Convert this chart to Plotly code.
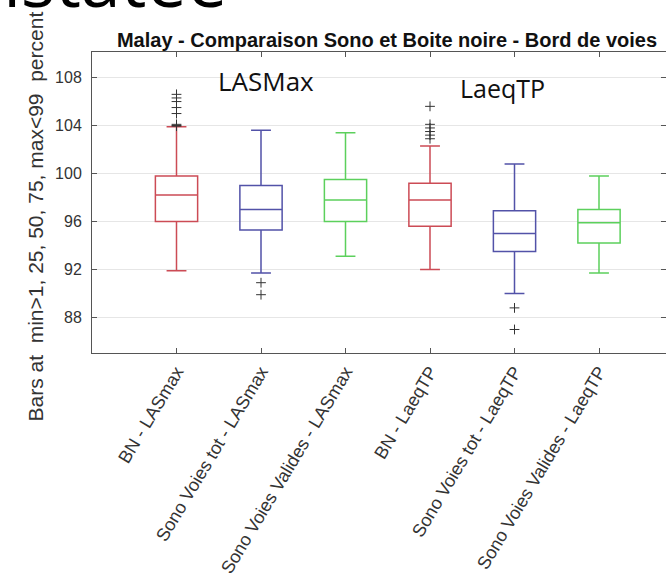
import plotly.graph_objects as go

# ---- data ----
categories = ["BN - LASmax", "Sono Voies tot - LASmax", "Sono Voies Valides - LASmax",
              "BN - LaeqTP", "Sono Voies tot - LaeqTP", "Sono Voies Valides - LaeqTP"]
positions = [1, 2, 3, 4, 5, 6]
lower_whisker = [91.9, 91.7, 93.1, 92.0, 90.0, 91.7]
q1_values     = [96.0, 95.3, 96.0, 95.6, 93.5, 94.2]
median_values = [98.2, 97.0, 97.8, 97.8, 95.0, 95.9]
q3_values     = [99.8, 99.0, 99.5, 99.2, 96.9, 97.0]
upper_whisker = [103.9, 103.6, 103.4, 102.3, 100.8, 99.8]
outliers = [
    [106.6, 106.3, 106.0, 105.5, 105.0, 104.1, 104.0, 103.95],
    [90.9, 89.9],
    [],
    [105.6, 104.1, 103.8, 103.5, 103.2, 102.9],
    [88.8, 87.0],
    [],
]
colors = ["#cc4b55", "#5252a8", "#5cd05c", "#cc4b55", "#5252a8", "#5cd05c"]
y_ticks = [88, 92, 96, 100, 104, 108]

W, H = 666, 577
ML, MT, MB = 92, 52, 224
plot_w = W - ML
plot_h = H - MT - MB

fig = go.Figure()
for i, cat in enumerate(categories):
    fig.add_trace(go.Box(
        x=[positions[i]], q1=[q1_values[i]], median=[median_values[i]], q3=[q3_values[i]],
        lowerfence=[lower_whisker[i]], upperfence=[upper_whisker[i]],
        width=0.5, whiskerwidth=0.47, boxpoints=False,
        fillcolor="rgba(0,0,0,0)", line=dict(color=colors[i], width=1.5),
        name=cat, showlegend=False, hoverinfo="skip"))
    if outliers[i]:
        fig.add_trace(go.Scatter(
            x=[positions[i]] * len(outliers[i]), y=outliers[i], mode="markers",
            marker=dict(symbol="cross-thin", size=7, line=dict(color="#333333", width=1)),
            showlegend=False, hoverinfo="skip"))

x_max = plot_w / 84.5

fig.update_layout(
    width=W, height=H,
    margin=dict(l=ML, r=0, t=MT, b=MB, pad=0),
    paper_bgcolor="white", plot_bgcolor="white",
    font=dict(family="Liberation Sans, Arial, sans-serif", color="#333333"),
    title=dict(text="<b>Malay - Comparaison Sono et Boite noire - Bord de voies</b>",
               x=387 / W, xref="container", xanchor="center",
               y=1 - 40 / H, yref="container", yanchor="middle",
               font=dict(size=20, color="#111111", family="Liberation Sans, Arial, sans-serif")),
    xaxis=dict(range=[0, x_max], tickvals=positions, ticktext=categories, tickangle=-59,
               ticks="inside", ticklen=5, tickcolor="#555555", showline=True, mirror="ticks",
               linecolor="#555555", linewidth=1, showgrid=False, zeroline=False,
               tickfont=dict(size=18, color="#333333")),
    yaxis=dict(range=[85.04, 110.13], tickvals=y_ticks, ticks="inside", ticklen=5,
               tickcolor="#555555", showline=True, mirror="ticks", linecolor="#555555",
               linewidth=1, showgrid=True, gridcolor="#e6e6e6", zeroline=False,
               ticklabelstandoff=6, tickfont=dict(size=16, color="#333333")),
    annotations=[
        dict(text="Bars at\u00a0 min>1, 25, 50, 75, max<99\u00a0 percent", textangle=-90,
             xref="paper", yref="paper", x=(35 - ML) / plot_w, y=(H - MB - 216.5) / plot_h,
             xanchor="center", yanchor="middle", showarrow=False,
             font=dict(size=21, color="#333333")),
        dict(text="LASMax", xref="paper", yref="paper", x=(265.5 - ML) / plot_w,
             y=(H - MB - 81) / plot_h, xanchor="center", yanchor="middle", showarrow=False,
             font=dict(size=26, color="#111111", family="Open Sans, sans-serif")),
        dict(text="LaeqTP", xref="paper", yref="paper", x=(502 - ML) / plot_w,
             y=(H - MB - 88.3) / plot_h, xanchor="center", yanchor="middle", showarrow=False,
             font=dict(size=25, color="#111111", family="Open Sans, sans-serif")),
        dict(text="Constatée", xref="paper", yref="paper", x=(-114 - ML) / plot_w,
             y=(H - MB - 30) / plot_h, xanchor="left", yanchor="bottom", showarrow=False,
             font=dict(size=72, color="#000000", family="Open Sans, sans-serif")),
    ],
)

fig.write_html("out.html", config={"displayModeBar": False},
               post_script="document.body.style.margin='0';")
